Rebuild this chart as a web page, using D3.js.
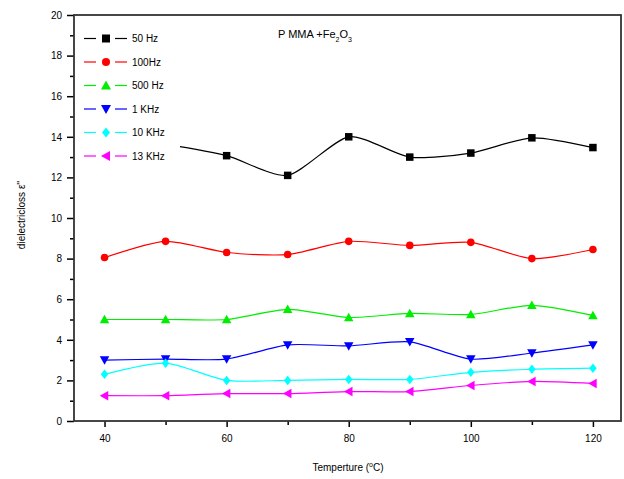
<!DOCTYPE html>
<html><head><meta charset="utf-8">
<script src="https://cdn.jsdelivr.net/npm/d3@7"></script>
<style>body{margin:0;background:#fff;} text{font-family:Arial,"Liberation Sans",sans-serif;}</style>
</head><body><svg id="c" width="624" height="479"></svg>
<script>
const temps = [40, 50, 60, 70, 80, 90, 100, 110, 120];
const hz50  = [13.5, 13.6, 13.07, 12.1, 14.0, 13.0, 13.2, 13.95, 13.47];
const hz100 = [8.05, 8.85, 8.3, 8.2, 8.85, 8.65, 8.8, 8.0, 8.45];
const hz500 = [5.0, 5.0, 5.0, 5.5, 5.1, 5.3, 5.25, 5.7, 5.2];
const khz1  = [3.0, 3.05, 3.05, 3.75, 3.7, 3.9, 3.05, 3.35, 3.75];
const khz10 = [2.3, 2.85, 2.0, 2.0, 2.05, 2.05, 2.4, 2.55, 2.6];
const khz13 = [1.25, 1.25, 1.35, 1.35, 1.45, 1.45, 1.75, 1.95, 1.85];
const seriesNames = ["50 Hz", "100Hz", "500 Hz", "1 KHz", "10 KHz", "13 KHz"];
const seriesColors = ["#000000", "#ff0000", "#00ee00", "#0000ff", "#00ffff", "#ff00ff"];
const seriesSymbols = ["square", "circle", "up", "down", "diamond", "left"];
const xTicks = [40, 60, 80, 100, 120];
const yTicks = [0, 2, 4, 6, 8, 10, 12, 14, 16, 18, 20];

const series = [hz50, hz100, hz500, khz1, khz10, khz13].map((v, i) => ({
  name: seriesNames[i], color: seriesColors[i], sym: seriesSymbols[i], values: v
}));

const svg = d3.select("#c");
const L = 74, R = 621, T = 15, B = 421;
const x = d3.scaleLinear().domain([35, 124.6]).range([L, R]);
const y = d3.scaleLinear().domain([0, 20]).range([B, T]);

function symPath(sym, s) {
  const h = s / 2;
  switch (sym) {
    case "square": return `M${-h},${-h}H${h}V${h}H${-h}Z`;
    case "circle": return d3.symbol(d3.symbolCircle, s * s * 0.8)();
    case "up": return `M0,${-h - 1}L${h + 1},${h}L${-h - 1},${h}Z`;
    case "down": return `M0,${h + 1}L${h + 1},${-h}L${-h - 1},${-h}Z`;
    case "diamond": return `M0,${-h - 1}L${h},0L0,${h + 1}L${-h},0Z`;
    case "left": return `M${-h - 1},0L${h},${-h - 1}L${h},${h + 1}Z`;
  }
}

// series lines
const line = d3.line().x((d, i) => x(temps[i])).y(d => y(d)).curve(d3.curveCardinal.tension(0.3));
const g = svg.append("g");
series.forEach(s => {
  g.append("path").attr("d", line(s.values)).attr("fill", "none")
    .attr("stroke", s.color).attr("stroke-width", 1.2);
  g.selectAll(null).data(s.values).enter().append("path")
    .attr("transform", (d, i) => `translate(${x(temps[i])},${y(d)})`)
    .attr("d", symPath(s.sym, 7.5)).attr("fill", s.color);
});

// legend
const lg = svg.append("g");
lg.append("rect").attr("x", 76).attr("y", 26).attr("width", 104).attr("height", 140).attr("fill", "#fff");
series.forEach((s, i) => {
  const yy = 38.5 + i * 23.5;
  lg.append("line").attr("x1", 84).attr("x2", 96).attr("y1", yy).attr("y2", yy).attr("stroke", s.color).attr("stroke-width", 1.2);
  lg.append("line").attr("x1", 115).attr("x2", 127).attr("y1", yy).attr("y2", yy).attr("stroke", s.color).attr("stroke-width", 1.2);
  lg.append("path").attr("transform", `translate(106,${yy})`).attr("d", symPath(s.sym, 8)).attr("fill", s.color);
  lg.append("text").attr("x", 132).attr("y", yy + 3.5).attr("font-size", 10).text(s.name);
});

// axes
svg.append("g").attr("transform", `translate(0,${B})`)
  .call(d3.axisBottom(x).tickValues(xTicks).tickSize(6).tickPadding(8).tickFormat(d3.format("d")))
  .call(a => a.select(".domain").remove())
  .call(a => a.selectAll("text").attr("font-size", 10).attr("fill", "#000"))
  .call(a => a.selectAll("line").attr("stroke-width", 1.5));
svg.append("g").attr("transform", `translate(0,${B})`)
  .call(d3.axisBottom(x).tickValues([50, 70, 90, 110]).tickSize(4).tickFormat(""))
  .call(a => a.select(".domain").remove())
  .call(a => a.selectAll("line").attr("stroke-width", 1.5));
svg.append("g").attr("transform", `translate(${L},0)`)
  .call(d3.axisLeft(y).tickValues(yTicks).tickSize(7).tickPadding(5))
  .call(a => a.select(".domain").remove())
  .call(a => a.selectAll("text").attr("font-size", 10).attr("fill", "#000"))
  .call(a => a.selectAll("line").attr("stroke-width", 1.5));
svg.append("g").attr("transform", `translate(${L},0)`)
  .call(d3.axisLeft(y).tickValues(d3.range(1, 20, 2)).tickSize(4).tickFormat(""))
  .call(a => a.select(".domain").remove())
  .call(a => a.selectAll("line").attr("stroke-width", 1.5));

svg.append("rect").attr("x", L).attr("y", T).attr("width", R - L).attr("height", B - T)
  .attr("fill", "none").attr("stroke", "#333").attr("stroke-width", 1.8);

// title
const t = svg.append("text").attr("x", 278).attr("y", 38).attr("font-size", 11);
t.append("tspan").text("P MMA +Fe");
t.append("tspan").attr("font-size", 7).attr("dy", 4).text("2");
t.append("tspan").attr("dy", -4).text("O");
t.append("tspan").attr("font-size", 7).attr("dy", 4).text("3");

// axis labels
const xl = svg.append("text").attr("x", 348).attr("y", 471).attr("text-anchor", "middle").attr("font-size", 10);
xl.append("tspan").text("Temperture (");
xl.append("tspan").attr("font-size", 7).attr("dy", -4).text("o");
xl.append("tspan").attr("dy", 4).text("C)");

svg.append("text").attr("transform", "translate(25,215) rotate(-90)").attr("text-anchor", "middle")
  .attr("font-size", 10).text("dielectricloss  \u03b5''");
</script></body></html>
